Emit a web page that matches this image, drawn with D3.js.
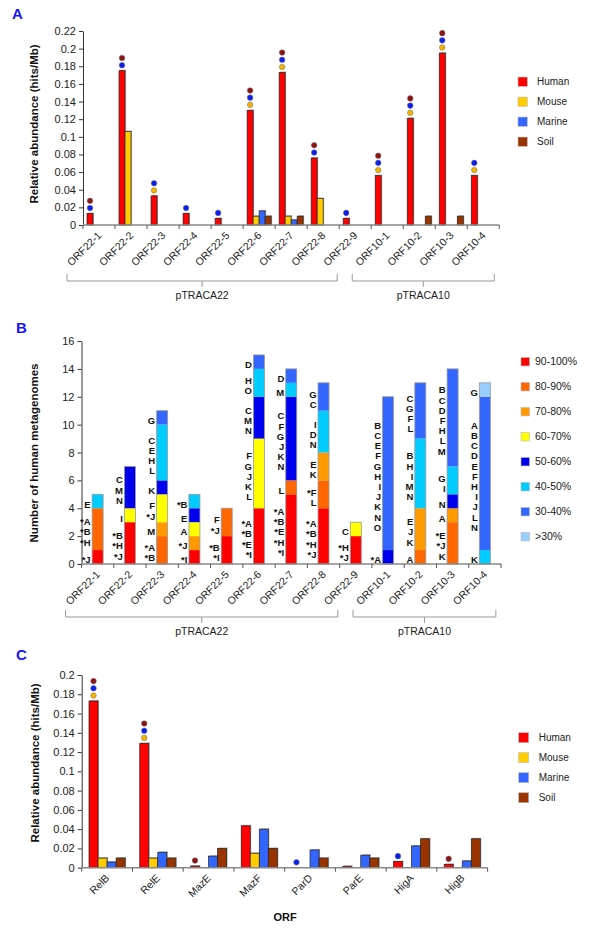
<!DOCTYPE html>
<html>
<head>
<meta charset="UTF-8">
<title>Toxin-antitoxin ORFs in metagenomes</title>
<script src="https://cdn.jsdelivr.net/npm/d3@7"></script>
<style>
  body { margin: 0; background: #fff; }
  svg text { font-family: Arial, "Liberation Sans", sans-serif; }
</style>
</head>
<body>
<svg id="chart" width="600" height="938"></svg>
<script>
// ---------------- data ----------------
const orfs = ["ORF22-1","ORF22-2","ORF22-3","ORF22-4","ORF22-5","ORF22-6","ORF22-7","ORF22-8","ORF22-9",
              "ORF10-1","ORF10-2","ORF10-3","ORF10-4"];
const envs = ["Human","Mouse","Marine","Soil"];
const envColors = ["#ff0000","#ffcc00","#3366ff","#993300"];
const dotColors = {Mouse: "#f2b400", Marine: "#0a1ef0", Soil: "#8e1212"};
const plasmids = [["pTRACA22","ORF22-1","ORF22-9"],["pTRACA10","ORF10-1","ORF10-4"]];

// panel A - relative abundance (hits/Mb)
const humanA  = [0.013,0.175,0.033,0.013,0.0075,0.130,0.173,0.076,0.0075,0.056,0.121,0.195,0.056];
const mouseA  = [0,0.106,0,0,0,0.010,0.010,0.030,0,0,0,0,0];
const marineA = [0,0,0,0,0,0.016,0.0057,0,0,0,0,0,0];
const soilA   = [0,0,0,0,0,0.010,0.010,0,0,0,0.010,0.010,0];
const dotsA = [["Marine","Soil"],["Marine","Soil"],["Mouse","Marine"],["Marine"],["Marine"],
               ["Mouse","Marine","Soil"],["Mouse","Marine","Soil"],["Marine","Soil"],["Marine"],
               ["Mouse","Marine","Soil"],["Mouse","Marine","Soil"],["Mouse","Marine","Soil"],["Mouse","Marine"]];
const ticksA = [0,0.02,0.04,0.06,0.08,0.1,0.12,0.14,0.16,0.18,0.2,0.22];

// panel B - number of human metagenomes per identity bin
const bins = ["90-100%","80-90%","70-80%","60-70%","50-60%","40-50%","30-40%",">30%"];
const binColors = ["#ff0000","#ff6600","#ff9900","#ffff00","#0000ee","#00ccff","#3366ff","#99ccff"];
const countsB = [
  [1,3,0,0,0,1,0,0],
  [3,0,0,1,3,0,0,0],
  [0,2,1,2,1,4,1,0],
  [1,0,1,1,1,1,0,0],
  [2,2,0,0,0,0,0,0],
  [4,0,0,5,3,2,1,0],
  [5,1,0,0,6,1,1,0],
  [4,2,2,0,0,3,2,0],
  [2,0,0,1,0,0,0,0],
  [0,0,0,0,1,0,11,0],
  [0,1,3,0,0,5,4,0],
  [0,3,1,0,1,2,7,0],
  [0,0,0,0,0,1,11,1]
];
const lettersB = [
  ["*J","*A *B *H","","","","E","",""],
  ["*B *H *J","","","I","C M N","","",""],
  ["","*A *B","M","F *J","K","C E H L","G",""],
  ["*I","","*J","A","E","*B","",""],
  ["*B *I","F *J","","","","","",""],
  ["*A *B *E *I","","","F G J K L","C M N","H O","D",""],
  ["*A *B *E *H *I","L","","","C F G J K N","M","D",""],
  ["*A *B *H *J","*F L","E K","","","I D N","G C",""],
  ["*H *J","","","C","","","",""],
  ["","","","","*A","","B C E F G H I J K N O",""],
  ["","A","E J K","","","B H I M N","C G F L",""],
  ["","*E *J K","A","","N","G I","B C D F H L M",""],
  ["","","","","","K","A B C D E F H I J L N","G"]
];
const ticksB = [0,2,4,6,8,10,12,14,16];

// panel C - relative abundance of TA families
const genes = ["RelB","RelE","MazE","MazF","ParD","ParE","HigA","HigB"];
const humanC  = [0.173,0.129,0.0017,0.0435,0,0.0015,0.0063,0.0035];
const mouseC  = [0.010,0.010,0,0.015,0,0,0,0];
const marineC = [0.0059,0.016,0.012,0.040,0.0184,0.013,0.0226,0.007];
const soilC   = [0.010,0.010,0.020,0.020,0.010,0.010,0.030,0.030];
const dotsC = [["Mouse","Marine","Soil"],["Mouse","Marine","Soil"],["Soil"],[],["Marine"],[],["Marine"],["Soil"]];
const ticksC = [0,0.02,0.04,0.06,0.08,0.1,0.12,0.14,0.16,0.18,0.2];

// ---------------- drawing ----------------
const svg = d3.select("#chart");
const decFmt = d => d === 0 ? "0" : String(+d.toFixed(2));

function panelLetter(txt, x, y) {
  svg.append("text").attr("x", x).attr("y", y).text(txt)
    .style("font-size", "15px").style("font-weight", "bold").style("fill", "#1414ff");
}

function yAxis(y, ticks, fmt, x0, title, tx, ty) {
  const g = svg.append("g").attr("transform", "translate(" + x0 + ",0)")
    .call(d3.axisLeft(y).tickValues(ticks).tickFormat(fmt).tickSize(4).tickSizeOuter(0).tickPadding(3));
  g.select(".domain").attr("stroke", "#333");
  g.selectAll(".tick line").attr("stroke", "#333");
  g.selectAll(".tick text").style("font-size", "11px").style("fill", "#222")
    .style("font-family", "Arial, 'Liberation Sans', sans-serif");
  svg.append("text").attr("transform", "translate(" + tx + "," + ty + ") rotate(-90)")
    .attr("text-anchor", "middle").text(title)
    .style("font-size", "11.5px").style("font-weight", "bold").style("fill", "#111");
}

function xAxis(x, y0, labels) {
  const [r0, r1] = x.range();
  svg.append("line").attr("x1", r0).attr("x2", r1).attr("y1", y0).attr("y2", y0)
    .attr("stroke", "#888").attr("stroke-width", 1.5);
  const edges = labels.map(c => x(c)).concat([r1]);
  svg.selectAll(null).data(edges).enter().append("line")
    .attr("x1", d => d).attr("x2", d => d).attr("y1", y0).attr("y2", y0 + 4)
    .attr("stroke", "#555");
  svg.selectAll(null).data(labels).enter().append("text")
    .attr("transform", d => "translate(" + (x(d) + x.bandwidth() / 2 + 3) + "," + (y0 + 11) + ") rotate(-45)")
    .attr("text-anchor", "end").text(d => d)
    .style("font-size", "10.5px").style("fill", "#222");
}

function brackets(x, yb, ends) {
  const bw = x.bandwidth();
  plasmids.forEach((p, i) => {
    const left = x(p[1]) + bw / 2 + ends[i][0];
    const right = x(p[2]) + bw / 2 + ends[i][1];
    const mid = (left + right) / 2;
    svg.append("path")
      .attr("d", "M" + left + "," + (yb - 7) + "V" + yb + "H" + right + "V" + (yb - 7) +
                 "M" + mid + "," + yb + "V" + (yb + 6))
      .attr("fill", "none").attr("stroke", "#999").attr("stroke-width", 1);
    svg.append("text").attr("x", mid).attr("y", yb + 18).attr("text-anchor", "middle")
      .text(p[0]).style("font-size", "10.5px").style("fill", "#222");
  });
}

function groupedBars(x, y, series, pad, dots) {
  const bw = x.bandwidth();
  const sub = d3.scaleBand().domain(envs).range([pad, bw - pad]);
  const y0 = y(0);
  const cats = x.domain();
  const rows = [];
  cats.forEach((c, i) => series.forEach((s, j) => {
    if (s[i] > 0) rows.push({c: c, env: envs[j], v: s[i], col: envColors[j]});
  }));
  const g = svg.append("g");
  g.selectAll(".shadow").data(rows).enter().append("rect")
    .attr("x", d => x(d.c) + sub(d.env) + 1).attr("y", d => y(d.v) - 1)
    .attr("width", sub.bandwidth()).attr("height", d => y0 - y(d.v))
    .attr("fill", "#b0b0b0");
  g.selectAll(".bar").data(rows).enter().append("rect")
    .attr("x", d => x(d.c) + sub(d.env)).attr("y", d => y(d.v))
    .attr("width", sub.bandwidth()).attr("height", d => y0 - y(d.v))
    .attr("fill", d => d.col).attr("stroke", "#222").attr("stroke-width", 0.7);
  // significance dots stacked above the human bar
  const dd = [];
  cats.forEach((c, i) => dots[i].forEach((e, k) => {
    dd.push({cx: x(c) + sub("Human") + sub.bandwidth() / 2, cy: y(series[0][i]) - 5.5 - k * 7.2, col: dotColors[e]});
  }));
  g.selectAll(".dot").data(dd).enter().append("circle")
    .attr("cx", d => d.cx).attr("cy", d => d.cy).attr("r", 2.8)
    .attr("fill", d => d.col).attr("stroke", "#777").attr("stroke-width", 0.5);
}

function legend(names, colors, x0, y0, step, size, tx, fs) {
  const g = svg.append("g");
  names.forEach((n, i) => {
    g.append("rect").attr("x", x0).attr("y", y0 + i * step - size / 2).attr("width", size).attr("height", size)
      .attr("fill", colors[i]).attr("stroke", "#bbb").attr("stroke-width", 0.6);
    g.append("text").attr("x", tx).attr("y", y0 + i * step).attr("dy", "0.35em").text(n)
      .style("font-size", fs + "px").style("fill", "#222");
  });
}

// ---- panel A ----
panelLetter("A", 12, 19);
const xA = d3.scaleBand().domain(orfs).range([83, 499.3]);
const yA = d3.scaleLinear().domain([0, 0.22]).range([225, 31]);
yAxis(yA, ticksA, decFmt, 83, "Relative abundance (hits/Mb)", 38, 124);
groupedBars(xA, yA, [humanA, mouseA, marineA, soilA], 4, dotsA);
xAxis(xA, 225, orfs);
brackets(xA, 281, [[-32, -18], [-35, 11]]);
legend(envs, envColors, 518, 81.7, 20, 9.3, 537, 10);

// ---- panel B ----
panelLetter("B", 16, 333);
const xB = d3.scaleBand().domain(orfs).range([81.5, 501]);
const yB = d3.scaleLinear().domain([0, 16]).range([564, 341]);
yAxis(yB, ticksB, d => d, 81.5, "Number of human metagenomes", 38, 453);
const barW = 11;
const stackB = [];
orfs.forEach((c, i) => {
  let acc = 0;
  countsB[i].forEach((n, b) => {
    if (n > 0) stackB.push({c: c, b: b, lo: acc, hi: acc + n, lab: lettersB[i][b]});
    acc += n;
  });
});
const gB = svg.append("g");
gB.selectAll(".seg").data(stackB).enter().append("rect")
  .attr("x", d => xB(d.c) + (xB.bandwidth() - barW) / 2).attr("y", d => yB(d.hi))
  .attr("width", barW).attr("height", d => yB(d.lo) - yB(d.hi))
  .attr("fill", d => binColors[d.b]);
gB.selectAll(".outline").data(orfs).enter().append("rect")
  .attr("x", (c) => xB(c) + (xB.bandwidth() - barW) / 2)
  .attr("y", (c, i) => yB(d3.sum(countsB[i])))
  .attr("width", barW).attr("height", (c, i) => yB(0) - yB(d3.sum(countsB[i])))
  .attr("fill", "none").attr("stroke", "#999").attr("stroke-width", 0.8);
stackB.filter(d => d.lab).forEach(d => {
  const lines = d.lab.split(" ");
  const mid = (yB(d.lo) + yB(d.hi)) / 2 + 3;
  const lh = 10.2;
  const t = gB.append("text").attr("text-anchor", "end")
    .style("font-size", "9.5px").style("font-weight", "bold").style("fill", "#111");
  lines.forEach((l, k) => {
    t.append("tspan").attr("x", xB(d.c) + (xB.bandwidth() - barW) / 2 - 1.5)
      .attr("y", mid + (k - (lines.length - 1) / 2) * lh).attr("dy", "0.35em").text(l);
  });
});
xAxis(xB, 564, orfs);
brackets(xB, 617, [[-32, -18], [-35, 11]]);
legend(bins, binColors, 521, 361.7, 25, 8.5, 535, 10.5);

// ---- panel C ----
panelLetter("C", 16, 660);
const xC = d3.scaleBand().domain(genes).range([81.7, 487.6]);
const yC = d3.scaleLinear().domain([0, 0.2]).range([867.7, 675]);
yAxis(yC, ticksC, decFmt, 81.7, "Relative abundance (hits/Mb)", 39, 763);
groupedBars(xC, yC, [humanC, mouseC, marineC, soilC], 7.3, dotsC);
xAxis(xC, 867.7, genes);
svg.append("text").attr("x", 285).attr("y", 921).attr("text-anchor", "middle").text("ORF")
  .style("font-size", "11px").style("font-weight", "bold").style("fill", "#111");
legend(envs, envColors, 518.7, 737.7, 20, 10, 538.7, 10);
</script>
</body>
</html>
